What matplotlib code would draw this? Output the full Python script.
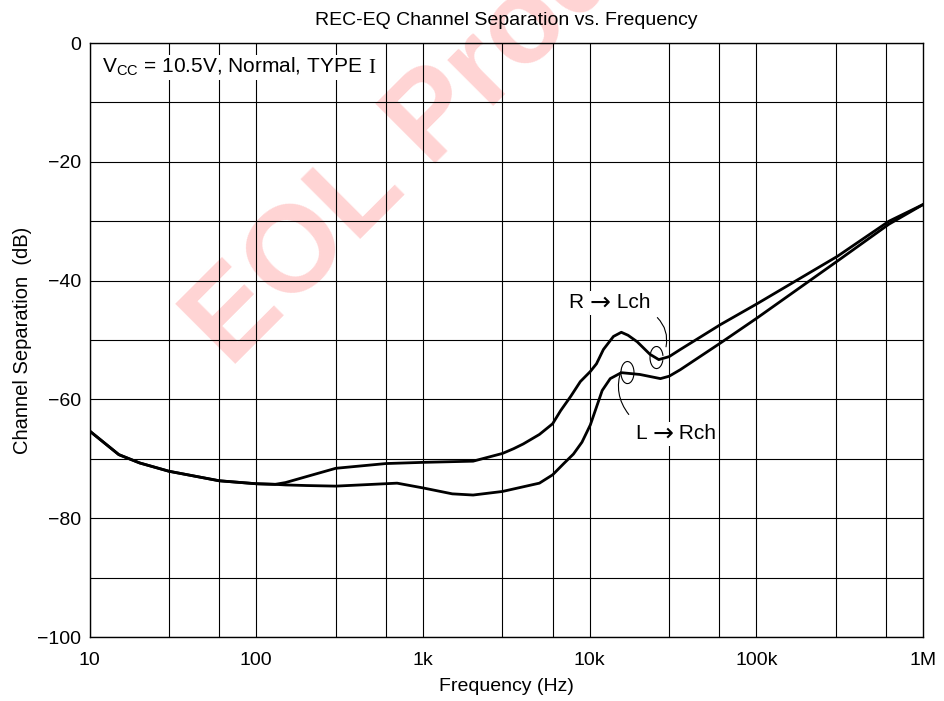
import numpy as np
import matplotlib
matplotlib.use('Agg')
import matplotlib.pyplot as plt
from matplotlib.patches import Arc

plt.rcParams['font.family'] = ['Liberation Sans', 'DejaVu Sans']
plt.rcParams['mathtext.fontset'] = 'custom'
plt.rcParams['mathtext.rm'] = 'Liberation Sans'
plt.rcParams['mathtext.it'] = 'Liberation Sans'

# R -> Lch curve
f_rl = [10, 15, 20, 30, 60, 100, 130, 150, 200, 300, 600, 1000, 2000, 3000, 3500, 4000,
        5000, 6000, 6700, 7700, 8800, 10100, 11000, 12100, 13900, 15500, 17000, 19300,
        23000, 26000, 30000, 35000, 61000, 101000, 307000, 625000, 1000000]
db_rl = [-65.3, -69.3, -70.7, -72.1, -73.7, -74.2, -74.3, -74.0, -73.0, -71.6, -70.8, -70.6,
         -70.4, -69.1, -68.3, -67.5, -65.9, -64.1, -61.9, -59.5, -57.0, -55.3, -54.0, -51.6,
         -49.4, -48.7, -49.2, -50.3, -52.4, -53.3, -52.8, -51.6, -47.4, -43.9, -35.9, -30.0, -27.2]

# L -> Rch curve
f_lr = [10, 15, 20, 30, 60, 100, 130, 150, 200, 300, 500, 700, 1000, 1500, 2000, 3000,
        5000, 6000, 7000, 8000, 9000, 10100, 11900, 13300, 15500, 20000, 26600, 30000,
        35000, 61000, 101000, 307000, 625000, 1000000]
db_lr = [-65.3, -69.3, -70.7, -72.1, -73.7, -74.2, -74.3, -74.4, -74.5, -74.6, -74.3, -74.1,
         -74.9, -75.9, -76.1, -75.5, -74.1, -72.7, -70.8, -69.2, -67.2, -64.3, -58.5, -56.5,
         -55.5, -55.8, -56.5, -56.1, -55.0, -50.5, -46.3, -36.7, -30.5, -27.2]

x_ticks = [10, 100, 1000, 10000, 100000, 1000000]
x_labels = ['10', '100', '1k', '10k', '100k', '1M']
y_ticks = [0, -20, -40, -60, -80, -100]
y_labels = ['0', '\u221220', '\u221240', '\u221260', '\u221280', '\u2212100']
x_grid = [m * 10 ** d for d in range(1, 6) for m in (1, 3, 6)]
y_grid = list(range(-100, 1, 10))

fig = plt.figure(figsize=(9.45, 7.01), dpi=100)
ax = fig.add_axes([89.5 / 945, 1 - 637 / 701, 833.5 / 945, 594 / 701])

# watermark
ax.text(230 / 945, 1 - 369 / 701, 'EOL Product', transform=fig.transFigure, rotation=45,
        rotation_mode='anchor', ha='left', va='baseline', fontsize=88, fontweight='bold',
        color='#ffd4d4', zorder=0.5, clip_on=False)

for xg in x_grid:
    ax.axvline(xg, color='black', lw=0.8, zorder=1)
for yg in y_grid:
    ax.axhline(yg, color='black', lw=0.8, zorder=1)

ax.plot(f_rl, db_rl, color='black', lw=2.0, zorder=3)
ax.plot(f_lr, db_lr, color='black', lw=2.0, zorder=3)

ax.set_xscale('log')
ax.set_xlim(10, 1e6)
ax.set_ylim(-100, 0)
ax.set_xticks(x_ticks)
ax.set_xticklabels(x_labels)
ax.minorticks_off()
ax.set_yticks(y_ticks)
ax.set_yticklabels(y_labels)
ax.tick_params(length=0, labelsize=14)
ax.tick_params(axis='x', pad=11)
ax.tick_params(axis='y', pad=6)
for s in ax.spines.values():
    s.set_linewidth(1.0)

ax.set_title('REC-EQ Channel Separation vs. Frequency', fontsize=14, pad=13)
ax.set_xlabel('Frequency (Hz)', fontsize=14, labelpad=6)
ax.set_ylabel('Channel Separation  (dB)', fontsize=14.5, labelpad=4)

box = dict(facecolor='white', edgecolor='none', pad=1)
t = ax.text(0.015, 0.978, r'$\mathrm{V_{CC}}$ = 10.5V, Normal, TYPE', transform=ax.transAxes,
            fontsize=15, va='top', ha='left', bbox=box, zorder=4)
ax.annotate('I', xy=(1, 0), xycoords=t, xytext=(4, 0), textcoords='offset points',
            ha='left', va='bottom', fontsize=15, family='Liberation Serif', zorder=4,
            bbox=box)


def arrow_label(x, y, left, right):
    a = ax.text(x, y, '\u2192', fontsize=18, family='DejaVu Sans', ha='center', va='center',
                bbox=dict(facecolor='white', edgecolor='none', pad=0), zorder=4)
    ax.annotate(left + ' ', xy=(0, 0.5), xycoords=a, ha='right', va='center', fontsize=15,
                bbox=dict(facecolor='white', edgecolor='none', pad=0), zorder=4)
    ax.annotate(' ' + right, xy=(1, 0.5), xycoords=a, ha='left', va='center', fontsize=15,
                bbox=dict(facecolor='white', edgecolor='none', pad=0), zorder=4)


arrow_label(11600, -43.7, 'R', 'Lch')
arrow_label(27500, -65.8, 'L', 'Rch')

ax.annotate('', xy=(28500, -51.6), xytext=(24800, -45.9),
            arrowprops=dict(arrowstyle='-', lw=0.8, connectionstyle='arc3,rad=-0.3'), zorder=4)
ax.add_patch(Arc(((656 - 90) / 832, (637 - 358) / 593), 13 / 832, 22 / 593,
                 theta1=20, theta2=330, transform=ax.transAxes, lw=0.8, color='black', zorder=4))
ax.annotate('', xy=(15700, -54.6), xytext=(17600, -62.9),
            arrowprops=dict(arrowstyle='-', lw=0.8, connectionstyle='arc3,rad=-0.3'), zorder=4)
ax.add_patch(Arc(((627 - 90) / 832, (637 - 373) / 593), 13 / 832, 22 / 593,
                 theta1=200, theta2=150, transform=ax.transAxes, lw=0.8, color='black', zorder=4))

fig.savefig('out.png', dpi=100)
